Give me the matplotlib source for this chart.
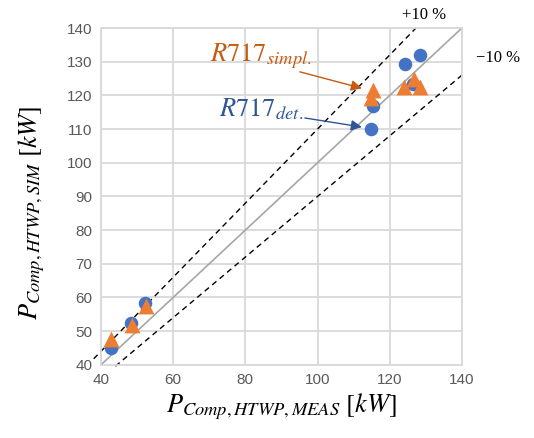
import numpy as np
import matplotlib.pyplot as plt

plt.rcParams['mathtext.fontset'] = 'stix'
plt.rcParams['font.family'] = ['Liberation Sans', 'DejaVu Sans']

# measured vs simulated compressor power [kW]
det_meas = [42.8, 48.4, 52.3, 114.7, 115.3, 124.2, 126.5, 128.5]
det_sim = [45.0, 52.4, 58.4, 110.0, 116.8, 129.4, 123.5, 132.0]
simpl_meas = [42.8, 48.5, 52.5, 114.8, 115.3, 124.0, 126.8, 128.5]
simpl_sim = [47.6, 51.8, 57.6, 119.3, 121.5, 122.6, 125.0, 122.6]

x_ticks = [40, 60, 80, 100, 120, 140]
y_ticks = [40, 50, 60, 70, 80, 90, 100, 110, 120, 130, 140]

blue = '#4472C4'
orange = '#ED7D31'

fig = plt.figure(figsize=(5.34, 4.38), dpi=100)
ax = fig.add_axes([0.189, 0.167, 0.676, 0.769])

ax.set_xlim(40, 140)
ax.set_ylim(40, 140)
ax.set_xticks(x_ticks)
ax.set_yticks(y_ticks)
ax.grid(True, color='#D9D9D9', linewidth=1.3)
ax.set_axisbelow(True)
for s in ax.spines.values():
    s.set_color('#D9D9D9')
    s.set_linewidth(1.3)
ax.tick_params(length=0, labelsize=11, labelcolor='#595959', pad=6)

# reference lines: 1:1, +10 %, -10 %
ax.plot([40, 140], [40, 140], color='#A6A6A6', linewidth=1.2, zorder=2)
xp = np.array([38.0, 140 / 1.1])
ax.plot(xp, 1.1 * xp, color='black', linestyle='--', dashes=(4, 3), linewidth=1.0,
        clip_on=False, zorder=2)
xm = np.array([44.0, 140.5])
ax.plot(xm, 0.9 * xm, color='black', linestyle='--', dashes=(4, 3), linewidth=1.0,
        clip_on=False, zorder=2)

ax.scatter(det_meas, det_sim, s=95, color=blue, marker='o', zorder=3, linewidths=0)
ax.scatter(simpl_meas, simpl_sim, s=130, color=orange, marker='^', zorder=4, linewidths=0)

ax.text(129.5, 144, '+10 %', fontsize=12, family='Liberation Serif', ha='center', va='center',
        clip_on=False)
ax.text(150, 131.2, '\u221210 %', fontsize=12, family='Liberation Serif', ha='center', va='center',
        clip_on=False)

# labels with arrows
ax.text(84.3, 131.6, r'$R717_{simpl.}$', fontsize=19, color='#C55A11', ha='center', va='center')
ax.annotate('', xy=(112.3, 122.1), xytext=(95.1, 127.0),
            arrowprops=dict(arrowstyle='-|>', color='#C55A11', lw=1.0, mutation_scale=16,
                            shrinkA=0, shrinkB=0))
ax.text(84.3, 115.8, r'$R717_{det.}$', fontsize=19, color='#2F5597', ha='center', va='center')
ax.annotate('', xy=(112.3, 110.6), xytext=(96.5, 113.3),
            arrowprops=dict(arrowstyle='-|>', color='#2F5597', lw=1.0, mutation_scale=16,
                            shrinkA=0, shrinkB=0))

ax.set_xlabel(r'$P_{Comp,HTWP,MEAS}\ [kW]$', fontsize=19, labelpad=3)
ax.set_ylabel(r'$P_{Comp,HTWP,SIM}\ [kW]$', fontsize=19, labelpad=6)
ax.yaxis.set_label_coords(-0.15, 0.45)

fig.savefig('out.png', dpi=100)
